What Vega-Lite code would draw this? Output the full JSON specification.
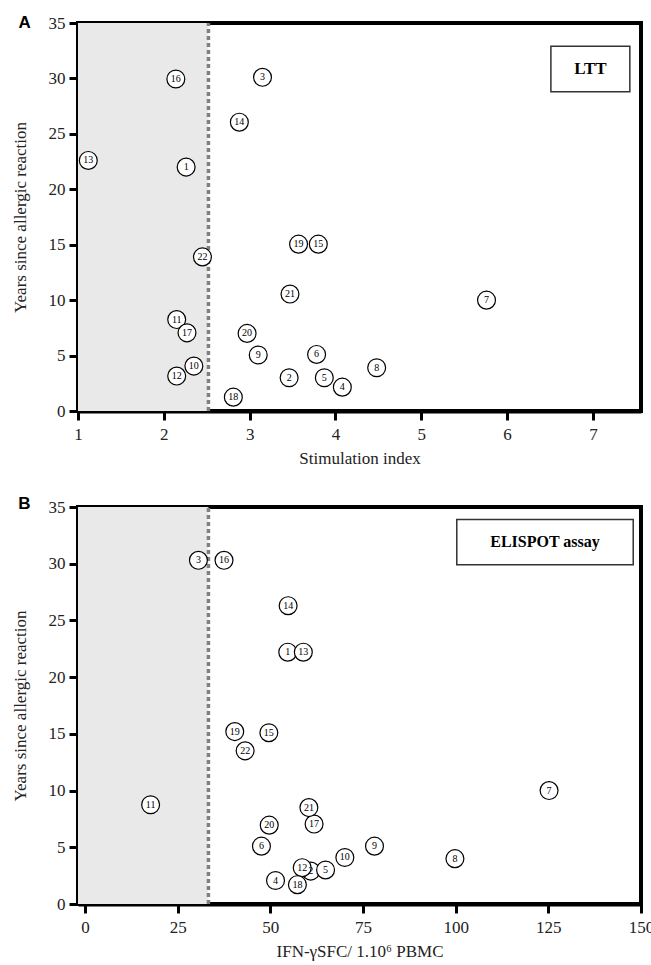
{
  "$schema": "https://vega.github.io/schema/vega-lite/v6.json",
  "background": "white",
  "padding": {"left": 9, "top": 12, "right": 0, "bottom": 0},
  "config": {
    "font": "Liberation Serif",
    "view": {"stroke": "black", "strokeWidth": 4},
    "axis": {
      "domainColor": "black", "domainWidth": 4,
      "tickColor": "black", "tickWidth": 3, "tickSize": 9,
      "labelFont": "Liberation Serif", "labelFontSize": 17, "labelColor": "#222", "labelPadding": 4,
      "titleFont": "Liberation Serif", "titleFontSize": 17, "titleFontWeight": "normal", "titleColor": "#222",
      "grid": false
    }
  },
  "datasets": {
    "ltt": [
      {"id": "1", "si": 2.26, "years": 22.0},
      {"id": "2", "si": 3.46, "years": 3.0},
      {"id": "3", "si": 3.15, "years": 30.1},
      {"id": "4", "si": 4.08, "years": 2.15},
      {"id": "5", "si": 3.87, "years": 3.0},
      {"id": "6", "si": 3.78, "years": 5.1},
      {"id": "7", "si": 5.76, "years": 10.0},
      {"id": "8", "si": 4.48, "years": 3.9},
      {"id": "9", "si": 3.1, "years": 5.05},
      {"id": "10", "si": 2.35, "years": 4.05},
      {"id": "11", "si": 2.15, "years": 8.25},
      {"id": "12", "si": 2.15, "years": 3.15},
      {"id": "13", "si": 1.12, "years": 22.6},
      {"id": "14", "si": 2.88, "years": 26.05},
      {"id": "15", "si": 3.8, "years": 15.05},
      {"id": "16", "si": 2.14, "years": 29.95},
      {"id": "17", "si": 2.27, "years": 7.05},
      {"id": "18", "si": 2.81, "years": 1.25},
      {"id": "19", "si": 3.57, "years": 15.05},
      {"id": "20", "si": 2.97, "years": 7.0},
      {"id": "21", "si": 3.47, "years": 10.55},
      {"id": "22", "si": 2.45, "years": 13.9}
    ],
    "elispot": [
      {"id": "1", "sfc": 54.7, "years": 22.2},
      {"id": "2", "sfc": 60.9, "years": 2.9},
      {"id": "3", "sfc": 30.6, "years": 30.3},
      {"id": "4", "sfc": 51.4, "years": 2.07},
      {"id": "5", "sfc": 64.9, "years": 3.0},
      {"id": "6", "sfc": 47.6, "years": 5.1},
      {"id": "7", "sfc": 125.2, "years": 10.0},
      {"id": "8", "sfc": 99.8, "years": 4.0},
      {"id": "9", "sfc": 78.1, "years": 5.1},
      {"id": "10", "sfc": 70.1, "years": 4.1},
      {"id": "11", "sfc": 17.7, "years": 8.75},
      {"id": "12", "sfc": 58.6, "years": 3.2},
      {"id": "13", "sfc": 58.9, "years": 22.2},
      {"id": "14", "sfc": 54.8, "years": 26.3},
      {"id": "15", "sfc": 49.6, "years": 15.1},
      {"id": "16", "sfc": 37.5, "years": 30.3},
      {"id": "17", "sfc": 61.8, "years": 7.05},
      {"id": "18", "sfc": 57.3, "years": 1.7},
      {"id": "19", "sfc": 40.4, "years": 15.2},
      {"id": "20", "sfc": 49.7, "years": 6.95},
      {"id": "21", "sfc": 60.4, "years": 8.5},
      {"id": "22", "sfc": 43.2, "years": 13.5}
    ]
  },
  "vconcat": [
    {
      "width": 563,
      "height": 388,
      "layer": [
        {
          "data": {"values": [{}]},
          "mark": {"type": "rect", "color": "#e9e9e9"},
          "encoding": {
            "x": {"datum": 1, "type": "quantitative"},
            "x2": {"datum": 2.52},
            "y": {"datum": 0, "type": "quantitative"},
            "y2": {"datum": 35}
          }
        },
        {
          "data": {"values": [{}]},
          "mark": {"type": "rule", "color": "#808080", "strokeWidth": 3.5, "strokeDash": [4, 3]},
          "encoding": {
            "x": {"datum": 2.52, "type": "quantitative"},
            "y": {"datum": 0, "type": "quantitative"},
            "y2": {"datum": 35}
          }
        },
        {
          "data": {"name": "ltt"},
          "mark": {"type": "point", "shape": "circle", "filled": true, "fill": "white", "stroke": "black", "strokeWidth": 1.2, "size": 320, "opacity": 1},
          "encoding": {
            "x": {"field": "si", "type": "quantitative", "scale": {"domain": [1, 7.56], "nice": false, "zero": false},
                  "axis": {"values": [1, 2, 3, 4, 5, 6, 7], "format": "d", "labelFlush": false, "title": "Stimulation index", "labelPadding": 6, "titlePadding": 8}},
            "y": {"field": "years", "type": "quantitative", "scale": {"domain": [0, 35], "nice": false},
                  "axis": {"values": [0, 5, 10, 15, 20, 25, 30, 35], "title": "Years since allergic reaction", "titlePadding": 19}}
          }
        },
        {
          "data": {"name": "ltt"},
          "mark": {"type": "text", "fontSize": 10, "font": "Liberation Serif", "color": "black"},
          "encoding": {
            "x": {"field": "si", "type": "quantitative"},
            "y": {"field": "years", "type": "quantitative"},
            "text": {"field": "id"}
          }
        },
        {
          "data": {"values": [{}]},
          "mark": {"type": "rect", "fill": "white", "stroke": "#333", "strokeWidth": 1.5},
          "encoding": {
            "x": {"datum": 6.51, "type": "quantitative"},
            "x2": {"datum": 7.43},
            "y": {"datum": 28.8, "type": "quantitative"},
            "y2": {"datum": 32.9}
          }
        },
        {
          "data": {"values": [{"label": "LTT"}]},
          "mark": {"type": "text", "fontSize": 17, "fontWeight": "bold", "font": "Liberation Serif", "color": "black"},
          "encoding": {
            "x": {"datum": 6.97, "type": "quantitative"},
            "y": {"datum": 30.85, "type": "quantitative"},
            "text": {"field": "label"}
          }
        },
        {
          "data": {"values": [{"panel": "A"}]},
          "mark": {"type": "text", "fontSize": 17, "fontWeight": "bold", "font": "Liberation Sans", "color": "black", "baseline": "middle"},
          "encoding": {
            "x": {"datum": 0.377, "type": "quantitative"},
            "y": {"datum": 34.97, "type": "quantitative"},
            "text": {"field": "panel"}
          }
        }
      ]
    },
    {
      "width": 563,
      "height": 397,
      "layer": [
        {
          "data": {"values": [{}]},
          "mark": {"type": "rect", "color": "#e9e9e9"},
          "encoding": {
            "x": {"datum": -1.89, "type": "quantitative"},
            "x2": {"datum": 33.3},
            "y": {"datum": 0, "type": "quantitative"},
            "y2": {"datum": 35}
          }
        },
        {
          "data": {"values": [{}]},
          "mark": {"type": "rule", "color": "#808080", "strokeWidth": 3.5, "strokeDash": [4, 3]},
          "encoding": {
            "x": {"datum": 33.3, "type": "quantitative"},
            "y": {"datum": 0, "type": "quantitative"},
            "y2": {"datum": 35}
          }
        },
        {
          "data": {"name": "elispot"},
          "mark": {"type": "point", "shape": "circle", "filled": true, "fill": "white", "stroke": "black", "strokeWidth": 1.2, "size": 320, "opacity": 1},
          "encoding": {
            "x": {"field": "sfc", "type": "quantitative", "scale": {"domain": [-1.89, 150], "nice": false, "zero": false},
                  "axis": {"values": [0, 25, 50, 75, 100, 125, 150], "labelFlush": false, "title": "IFN-γSFC/ 1.10⁶ PBMC", "labelPadding": 6, "titlePadding": 8}},
            "y": {"field": "years", "type": "quantitative", "scale": {"domain": [0, 35], "nice": false},
                  "axis": {"values": [0, 5, 10, 15, 20, 25, 30, 35], "title": "Years since allergic reaction", "titlePadding": 19}}
          }
        },
        {
          "data": {"name": "elispot"},
          "mark": {"type": "text", "fontSize": 10, "font": "Liberation Serif", "color": "black"},
          "encoding": {
            "x": {"field": "sfc", "type": "quantitative"},
            "y": {"field": "years", "type": "quantitative"},
            "text": {"field": "id"}
          }
        },
        {
          "data": {"values": [{}]},
          "mark": {"type": "rect", "fill": "white", "stroke": "#333", "strokeWidth": 1.5},
          "encoding": {
            "x": {"datum": 100.3, "type": "quantitative"},
            "x2": {"datum": 147.9},
            "y": {"datum": 29.9, "type": "quantitative"},
            "y2": {"datum": 33.9}
          }
        },
        {
          "data": {"values": [{"label": "ELISPOT assay"}]},
          "mark": {"type": "text", "fontSize": 16, "fontWeight": "bold", "font": "Liberation Serif", "color": "black"},
          "encoding": {
            "x": {"datum": 124.1, "type": "quantitative"},
            "y": {"datum": 31.9, "type": "quantitative"},
            "text": {"field": "label"}
          }
        },
        {
          "data": {"values": [{"panel": "B"}]},
          "mark": {"type": "text", "fontSize": 17, "fontWeight": "bold", "font": "Liberation Sans", "color": "black", "baseline": "middle"},
          "encoding": {
            "x": {"datum": -16.32, "type": "quantitative"},
            "y": {"datum": 35.26, "type": "quantitative"},
            "text": {"field": "panel"}
          }
        }
      ]
    }
  ],
  "spacing": 25
}
